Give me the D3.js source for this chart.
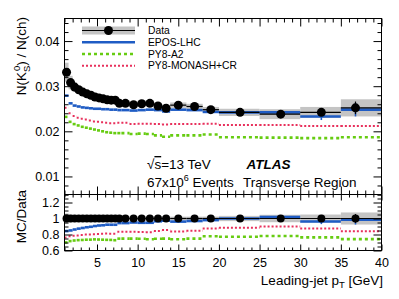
<!DOCTYPE html>
<html><head><meta charset="utf-8">
<script src="https://cdn.jsdelivr.net/npm/d3@7"></script>
<style>
html,body{margin:0;padding:0;background:#fff;}
svg{display:block;font-family:"Liberation Sans",Arial,Helvetica,sans-serif;}
</style></head><body>
<svg id="c" width="399" height="299"></svg>
<script>
// ---- data ----
const binEdges = [1,1.5,2,2.5,3,3.5,4,4.5,5,5.5,6,6.5,7,7.5,8,9,10,11,12,13,14,16,18,20,25,30,35,40];
const dataPt   = [1.25,1.75,2.25,2.75,3.25,3.75,4.25,4.75,5.25,5.75,6.25,6.75,7.25,7.75,8.5,9.5,10.5,11.5,12.5,13.5,15,17,19,22.6,27.6,32.6,36.8];
const dataVal  = [0.0331,0.0308,0.0298,0.0292,0.0287,0.0283,0.0280,0.0276,0.0274,0.0272,0.0270,0.0269,0.0269,0.0262,0.0262,0.0259,0.0261,0.0262,0.0256,0.0251,0.0258,0.0255,0.0248,0.0242,0.0238,0.0242,0.0252];
const dataSys  = [0.0021,0.0015,0.0010,0.0008,0.0007,0.0006,0.0006,0.0006,0.0006,0.0006,0.0006,0.0006,0.0006,0.0006,0.0006,0.0006,0.0006,0.0006,0.0006,0.0006,0.0006,0.0006,0.0006,0.0008,0.0011,0.0012,0.0019];
const dataStat = [0.0002,0.0002,0.0002,0.0002,0.0002,0.0002,0.0002,0.0002,0.0002,0.0002,0.0002,0.0002,0.0002,0.0002,0.0002,0.0002,0.0002,0.0003,0.0003,0.0003,0.0003,0.0003,0.0004,0.0004,0.0006,0.0008,0.0014];
const eposLHC  = [0.0279,0.0262,0.0257,0.0255,0.0253,0.0252,0.0251,0.0250,0.0250,0.0249,0.0249,0.0248,0.0248,0.0247,0.0247,0.0246,0.0247,0.0248,0.0247,0.0244,0.0248,0.0247,0.0243,0.0242,0.0242,0.0233,0.0248];
const eposErr  = [0,0,0,0,0,0,0,0,0,0,0,0,0,0,0,0,0,0,0,0,0,0,0,0.0003,0.0004,0.0008,0.0015];
const py8A2    = [0.0232,0.0221,0.0216,0.0213,0.0210,0.0208,0.0206,0.0204,0.0202,0.0200,0.0198,0.0197,0.0196,0.0196,0.0196,0.0194,0.0195,0.0194,0.0191,0.0188,0.0191,0.0191,0.0193,0.0187,0.0186,0.0185,0.0187];
const py8Monash= [0.0252,0.0240,0.0234,0.0230,0.0228,0.0226,0.0224,0.0222,0.0221,0.0220,0.0219,0.0218,0.0218,0.0219,0.0219,0.0216,0.0217,0.0217,0.0216,0.0215,0.0216,0.0216,0.0217,0.0214,0.0214,0.0212,0.0212];
const legendLabels = ["Data","EPOS-LHC","PY8-A2","PY8-MONASH+CR"];
const xTicks = [5,10,15,20,25,30,35,40];
const yTicksTop = [0.01,0.02,0.03,0.04];
const yTicksRatio = [0.6,0.8,1,1.2];

// ---- layout ----
const L = 64.5, R = 381.5, T = 18.5, M = 194.5, B = 250.5;
const svg = d3.select("#c");
const x = d3.scaleLinear([1,40],[L,R]);
const yT = d3.scaleLinear([0.006,0.045],[M,T]);
const yR = d3.scaleLinear([0.6,1.3],[B,M]);

const nb = dataVal.length;
const bins = d3.range(nb).map(i => ({
  lo: binEdges[i], hi: binEdges[i+1], pt: dataPt[i], v: dataVal[i], sys: dataSys[i], st: dataStat[i],
  epos: eposLHC[i], eErr: eposErr[i], a2: py8A2[i], mon: py8Monash[i]
}));

const styles = {
  epos: {stroke:"#1f5cc4", width:2.6, dash:null},
  a2:   {stroke:"#66cc11", width:2.6, dash:"3,3"},
  mon:  {stroke:"#e8305c", width:2.0, dash:"2,2"}
};
const gray = "#c4c4c4";

function panel(g, y, valFn, sysFn, statFn, mcFn, dotR) {
  g.selectAll("rect.band").data(bins).join("rect").attr("class","band")
    .attr("x", d => x(d.lo)).attr("width", d => x(d.hi)-x(d.lo))
    .attr("y", d => y(valFn(d)+sysFn(d))).attr("height", d => y(valFn(d)-sysFn(d))-y(valFn(d)+sysFn(d)))
    .attr("fill", gray);
  for (const key of ["a2","mon","epos"]) {
    const s = styles[key];
    g.selectAll("line.mc-"+key).data(bins).join("line").attr("class","mc-"+key)
      .attr("x1", d => x(d.lo)).attr("x2", d => x(d.hi))
      .attr("y1", d => y(mcFn(d,key))).attr("y2", d => y(mcFn(d,key)))
      .attr("stroke", s.stroke).attr("stroke-width", s.width)
      .attr("stroke-dasharray", s.dash);
  }
  g.selectAll("line.eerr").data(bins.filter(d => d.eErr>0)).join("line").attr("class","eerr")
    .attr("x1", d => x(d.pt)).attr("x2", d => x(d.pt))
    .attr("y1", d => y(mcFn(d,"epos") + mcFn(d,"eErr"))).attr("y2", d => y(mcFn(d,"epos") - mcFn(d,"eErr")))
    .attr("stroke", styles.epos.stroke).attr("stroke-width", 1.6);
  g.selectAll("line.dh").data(bins).join("line").attr("class","dh")
    .attr("x1", d => x(d.lo)).attr("x2", d => x(d.hi))
    .attr("y1", d => y(valFn(d))).attr("y2", d => y(valFn(d)))
    .attr("stroke","#000").attr("stroke-width",1.2);
  g.selectAll("line.dv").data(bins).join("line").attr("class","dv")
    .attr("x1", d => x(d.pt)).attr("x2", d => x(d.pt))
    .attr("y1", d => y(valFn(d)+statFn(d))).attr("y2", d => y(valFn(d)-statFn(d)))
    .attr("stroke","#000").attr("stroke-width",1.2);
  g.selectAll("circle.dot").data(bins).join("circle").attr("class","dot")
    .attr("cx", d => x(d.pt)).attr("cy", d => y(valFn(d))).attr("r", dotR).attr("fill","#000");
}

const gTop = svg.append("g");
panel(gTop, yT, d => d.v, d => d.sys, d => d.st, (d,k) => d[k], 4.5);
const gBot = svg.append("g");
panel(gBot, yR, d => 1, d => d.sys/d.v, d => d.st/d.v, (d,k) => k==="eErr" ? d.eErr/d.v : d[k]/d.v, 4);

// ---- axes ----
function minorVals(lo, hi, step, majors) {
  const out = [];
  for (let v = lo; v <= hi + 1e-9; v += step) {
    const r = Math.round(v/step)*step;
    if (!majors.some(m => Math.abs(m-r) < step/10)) out.push(+r.toFixed(6));
  }
  return out;
}
function ax(gen, scale, vals, size, pos, fmt, fs) {
  const a = gen(scale).tickValues(vals).tickSize(-size).tickPadding(fmt ? 5 : 0)
    .tickFormat(fmt || (() => ""));
  const g = svg.append("g").attr("transform", pos).call(a);
  g.select(".domain").remove();
  g.selectAll("line").attr("stroke","#000").attr("stroke-width",1);
  g.selectAll("text").attr("font-size", fs || 12).attr("fill","#000")
    .attr("font-family","Liberation Sans, Arial, sans-serif");
  return g;
}
const xMinor = minorVals(1, 40, 1, xTicks);
const ytMinor = minorVals(0.006, 0.045, 0.002, yTicksTop);
const yrMinor = minorVals(0.6, 1.3, 0.05, yTicksRatio);

ax(d3.axisBottom, x, xTicks, 8, `translate(0,${M})`);
ax(d3.axisBottom, x, xMinor, 4, `translate(0,${M})`);
ax(d3.axisTop, x, xTicks, 8, `translate(0,${T})`);
ax(d3.axisTop, x, xMinor, 4, `translate(0,${T})`);
ax(d3.axisLeft, yT, yTicksTop, 8, `translate(${L},0)`, d3.format(".2f"), 12.5);
ax(d3.axisLeft, yT, ytMinor, 4, `translate(${L},0)`);
ax(d3.axisRight, yT, yTicksTop, 8, `translate(${R},0)`);
ax(d3.axisRight, yT, ytMinor, 4, `translate(${R},0)`);
ax(d3.axisBottom, x, xTicks, 6, `translate(0,${B})`, d => d, 12.5)
  .selectAll("text").attr("dy","0.95em");
ax(d3.axisBottom, x, xMinor, 3, `translate(0,${B})`);
ax(d3.axisTop, x, xTicks, 6, `translate(0,${M})`);
ax(d3.axisTop, x, xMinor, 3, `translate(0,${M})`);
ax(d3.axisLeft, yR, yTicksRatio, 8, `translate(${L},0)`, d => d===1 ? "1" : d.toFixed(1), 12.5);
ax(d3.axisLeft, yR, yrMinor, 4, `translate(${L},0)`);
ax(d3.axisRight, yR, yTicksRatio, 8, `translate(${R},0)`);
ax(d3.axisRight, yR, yrMinor, 4, `translate(${R},0)`);

svg.append("rect").attr("x",L).attr("y",T).attr("width",R-L).attr("height",M-T)
  .attr("fill","none").attr("stroke","#000").attr("stroke-width",1);
svg.append("rect").attr("x",L).attr("y",M).attr("width",R-L).attr("height",B-M)
  .attr("fill","none").attr("stroke","#000").attr("stroke-width",1);

// ---- legend ----
const lx0 = 82, lx1 = 135, ltx = 148;
const legY = [30.5, 42.3, 54, 65.7];
const lg = svg.append("g");
lg.append("rect").attr("x",lx0).attr("y",legY[0]-4).attr("width",lx1-lx0).attr("height",8).attr("fill",gray);
lg.append("line").attr("x1",lx0).attr("x2",lx1).attr("y1",legY[0]).attr("y2",legY[0]).attr("stroke","#000").attr("stroke-width",1.2);
lg.append("circle").attr("cx",(lx0+lx1)/2).attr("cy",legY[0]).attr("r",4.5).attr("fill","#000");
["epos","a2","mon"].forEach((k,i) => {
  const s = styles[k];
  lg.append("line").attr("x1",lx0).attr("x2",lx1).attr("y1",legY[i+1]).attr("y2",legY[i+1])
    .attr("stroke",s.stroke).attr("stroke-width",s.width).attr("stroke-dasharray",s.dash);
});
legendLabels.forEach((t,i) => {
  lg.append("text").attr("x",ltx).attr("y",legY[i]+3.6).attr("font-size",10.3).attr("fill","#000").text(t);
});

// ---- annotations ----
const an = svg.append("g").attr("font-size",13.5).attr("fill","#000");
const t1 = an.append("text").attr("x",147).attr("y",169);
t1.append("tspan").text("√");
t1.append("tspan").attr("text-decoration","overline").text("s");
t1.append("tspan").text("=13 TeV");
an.append("text").attr("x",246.5).attr("y",169).attr("font-weight","bold").attr("font-style","italic").text("ATLAS");
const t2 = an.append("text").attr("x",147).attr("y",186.5);
t2.append("tspan").text("67x10");
t2.append("tspan").attr("font-size",9).attr("dy",-6).text("6");
t2.append("tspan").attr("dy",6).text(" Events");
an.append("text").attr("x",243).attr("y",186.5).text("Transverse Region");

// ---- axis titles ----
const yt = svg.append("text").attr("transform","translate(26,17) rotate(-90)")
  .attr("text-anchor","end").attr("font-size",13.5).attr("fill","#000");
yt.append("tspan").text("N(K");
yt.append("tspan").attr("font-size",9.5).attr("dy",4).text("S");
yt.append("tspan").attr("font-size",9.5).attr("dx",-5.5).attr("dy",-10).text("0");
yt.append("tspan").attr("dy",6).text(") / N(ch)");
svg.append("text").attr("transform","translate(26,190) rotate(-90)")
  .attr("text-anchor","end").attr("font-size",13.5).attr("fill","#000").text("MC/Data");
const xt = svg.append("text").attr("x",383).attr("y",285).attr("text-anchor","end")
  .attr("font-size",13.5).attr("fill","#000");
xt.append("tspan").text("Leading-jet p");
xt.append("tspan").attr("font-size",9.5).attr("dy",3).text("T");
xt.append("tspan").attr("dy",-3).text(" [GeV]");
</script>
</body></html>
